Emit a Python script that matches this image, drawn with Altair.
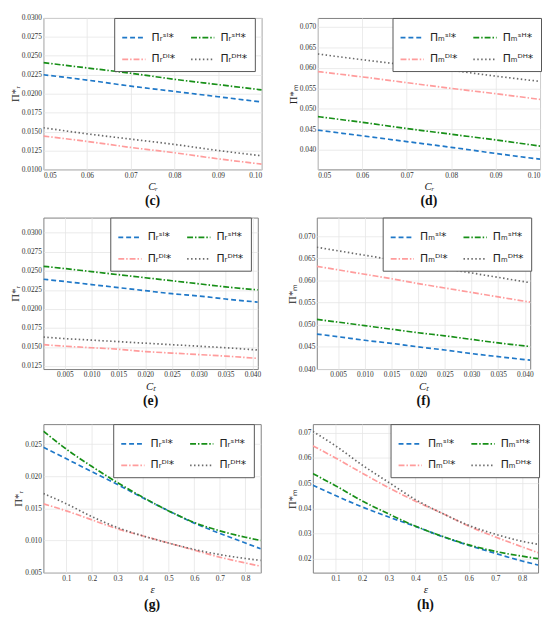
import altair as alt
import pandas as pd

# ---------------- data ----------------
x_c = [0.05, 0.06, 0.07, 0.08, 0.09, 0.10]
c_SI = [0.0225, 0.0218, 0.0210, 0.0203, 0.0196, 0.0189]
c_SH = [0.0241, 0.0234, 0.0227, 0.0219, 0.0212, 0.0205]
c_DI = [0.0144, 0.0137, 0.0129, 0.0122, 0.0114, 0.0107]
c_DH = [0.0155, 0.0147, 0.0140, 0.0133, 0.0125, 0.0118]

x_d = [0.05, 0.06, 0.07, 0.08, 0.09, 0.10]
d_SI = [0.0448, 0.0434, 0.0420, 0.0406, 0.0391, 0.0377]
d_SH = [0.0481, 0.0467, 0.0452, 0.0438, 0.0424, 0.0409]
d_DI = [0.0591, 0.0578, 0.0564, 0.0550, 0.0537, 0.0523]
d_DH = [0.0634, 0.0620, 0.0607, 0.0594, 0.0580, 0.0567]

x_e = [0.001, 0.005, 0.010, 0.015, 0.020, 0.025, 0.030, 0.035, 0.041]
e_SI = [0.0239, 0.0236, 0.0232, 0.0228, 0.0224, 0.0220, 0.0217, 0.0213, 0.0209]
e_SH = [0.0256, 0.0253, 0.0249, 0.0245, 0.0241, 0.0237, 0.0233, 0.0229, 0.0225]
e_DI = [0.0153, 0.0151, 0.0149, 0.0147, 0.0144, 0.0142, 0.0140, 0.0138, 0.0135]
e_DH = [0.0163, 0.0161, 0.0159, 0.0157, 0.0155, 0.0153, 0.0151, 0.0149, 0.0146]

x_f = [0.001, 0.005, 0.010, 0.015, 0.020, 0.025, 0.030, 0.035, 0.041]
f_SI = [0.0479, 0.0473, 0.0465, 0.0458, 0.0450, 0.0443, 0.0435, 0.0428, 0.0420]
f_SH = [0.0512, 0.0506, 0.0498, 0.0490, 0.0482, 0.0475, 0.0467, 0.0459, 0.0451]
f_DI = [0.0632, 0.0624, 0.0614, 0.0604, 0.0593, 0.0583, 0.0573, 0.0563, 0.0551]
f_DH = [0.0675, 0.0667, 0.0657, 0.0647, 0.0637, 0.0627, 0.0617, 0.0607, 0.0595]

x_g = [0.01, 0.1, 0.2, 0.3, 0.4, 0.5, 0.6, 0.7, 0.8, 0.86]
g_SI = [0.0245, 0.0227, 0.0207, 0.0187, 0.0166, 0.0146, 0.0127, 0.0111, 0.0096, 0.0087]
g_SH = [0.0270, 0.0242, 0.0215, 0.0190, 0.0167, 0.0146, 0.0128, 0.0115, 0.0105, 0.0100]
g_DI = [0.0157, 0.0146, 0.0132, 0.0118, 0.0107, 0.0096, 0.0085, 0.0074, 0.0065, 0.0060]
g_DH = [0.0173, 0.0157, 0.0137, 0.0120, 0.0107, 0.0096, 0.0086, 0.0078, 0.0072, 0.0069]

x_h = [0.015, 0.1, 0.2, 0.3, 0.4, 0.5, 0.6, 0.7, 0.8, 0.86]
h_SI = [0.0492, 0.0451, 0.0406, 0.0366, 0.0329, 0.0289, 0.0254, 0.0222, 0.0192, 0.0176]
h_SH = [0.0538, 0.0490, 0.0430, 0.0378, 0.0330, 0.0290, 0.0256, 0.0230, 0.0211, 0.0201]
h_DI = [0.0648, 0.0600, 0.0540, 0.0482, 0.0429, 0.0381, 0.0330, 0.0287, 0.0248, 0.0225]
h_DH = [0.0705, 0.0648, 0.0572, 0.0503, 0.0435, 0.0381, 0.0333, 0.0298, 0.0270, 0.0258]

# legend order as it fills the 2-column grid: SI, SH (row 1) / DI, DH (row 2)
series_keys = ["SI", "DI", "SH", "DH"]
sup = {"SI": "ˢᴵ*", "SH": "ˢᴴ*", "DI": "ᴰᴵ*", "DH": "ᴰᴴ*"}
color_of = {"SI": "#1f78c8", "SH": "#178f17", "DI": "#ff9c9c", "DH": "#6a6a6a"}
dash_of = {"SI": [5, 3], "SH": [6, 2, 1.5, 2], "DI": [6, 2, 1.5, 2], "DH": [1.5, 2.5]}

SERIF = "Liberation Serif"


def panel(xs, vals, sub, ydom, yticks, yfmt, xdom, xticks, xfmt, xtitle, ytitle, cap,
          w, h, cap_off):
    labels = ["Π" + sub + sup[k] for k in series_keys]
    rows = []
    for k, lab in zip(series_keys, labels):
        for xv, yv in zip(xs, vals[k]):
            rows.append({"x": xv, "y": yv, "s": lab})
    df = pd.DataFrame(rows)
    leg = alt.Legend(
        title=None, orient="none", legendX=w - 150, legendY=0, columns=2,
        symbolType="stroke", symbolSize=560, symbolStrokeWidth=1.8,
        labelFont="DejaVu Sans", labelFontSize=11, labelColor="#222",
        strokeColor="#555", fillColor="white", padding=7, rowPadding=4,
        columnPadding=12, labelOffset=5, labelLimit=80,
    )
    return alt.Chart(df).mark_line(strokeWidth=1.7, clip=True, interpolate="monotone").encode(
        x=alt.X("x:Q", scale=alt.Scale(domain=xdom, nice=False, zero=False),
                axis=alt.Axis(values=xticks, format=xfmt, title=xtitle, titleFontStyle="italic",
                              titlePadding=2)),
        y=alt.Y("y:Q", scale=alt.Scale(domain=ydom, nice=False, zero=False),
                axis=alt.Axis(values=yticks, format=yfmt, title=ytitle, titleFontStyle="normal",
                              titlePadding=1)),
        color=alt.Color("s:N", scale=alt.Scale(domain=labels, range=[color_of[k] for k in series_keys]),
                        legend=leg),
        strokeDash=alt.StrokeDash("s:N", scale=alt.Scale(domain=labels, range=[dash_of[k] for k in series_keys]),
                                  legend=leg),
    ).properties(
        width=w, height=h,
        title=alt.TitleParams(cap, orient="bottom", font=SERIF, fontSize=14,
                              fontWeight="bold", offset=cap_off, color="#111"),
    )


pc = panel(x_c, {"SI": c_SI, "SH": c_SH, "DI": c_DI, "DH": c_DH}, "ᵣ",
           [0.0100, 0.0300], [0.0100, 0.0125, 0.0150, 0.0175, 0.0200, 0.0225, 0.0250, 0.0275, 0.0300], ".4f",
           [0.05, 0.10], [0.05, 0.06, 0.07, 0.08, 0.09, 0.10], ".2f", "Cᵣ", "Π*ᵣ", "(c)", 222, 154, 3)
pd_ = panel(x_d, {"SI": d_SI, "SH": d_SH, "DI": d_DI, "DH": d_DH}, "ₘ",
            [0.0352, 0.0722], [0.040, 0.045, 0.050, 0.055, 0.060, 0.065, 0.070], ".3f",
            [0.05, 0.10], [0.05, 0.06, 0.07, 0.08, 0.09, 0.10], ".2f", "Cᵣ", "Π*ₘ", "(d)", 226, 154, 3)
pe = panel(x_e, {"SI": e_SI, "SH": e_SH, "DI": e_DI, "DH": e_DH}, "ᵣ",
           [0.0121, 0.0320], [0.0125, 0.0150, 0.0175, 0.0200, 0.0225, 0.0250, 0.0275, 0.0300], ".4f",
           [0.001, 0.041], [0.005, 0.010, 0.015, 0.020, 0.025, 0.030, 0.035, 0.040], ".3f", "Cₜ", "Π*ᵣ", "(e)", 218, 154, 3)
pf = panel(x_f, {"SI": f_SI, "SH": f_SH, "DI": f_DI, "DH": f_DH}, "ₘ",
           [0.0400, 0.0742], [0.040, 0.045, 0.050, 0.055, 0.060, 0.065, 0.070], ".3f",
           [0.001, 0.041], [0.005, 0.010, 0.015, 0.020, 0.025, 0.030, 0.035, 0.040], ".3f", "Cₜ", "Π*ₘ", "(f)", 217, 154, 3)
pg = panel(x_g, {"SI": g_SI, "SH": g_SH, "DI": g_DI, "DH": g_DH}, "ᵣ",
           [0.0050, 0.0281], [0.005, 0.010, 0.015, 0.020, 0.025], ".3f",
           [0.01, 0.86], [0.1, 0.2, 0.3, 0.4, 0.5, 0.6, 0.7, 0.8], ".1f", "ε", "Π*ᵣ", "(g)", 221, 151, 3)
ph = panel(x_h, {"SI": h_SI, "SH": h_SH, "DI": h_DI, "DH": h_DH}, "ₘ",
           [0.0146, 0.0734], [0.02, 0.03, 0.04, 0.05, 0.06, 0.07], ".2f",
           [0.015, 0.86], [0.1, 0.2, 0.3, 0.4, 0.5, 0.6, 0.7, 0.8], ".1f", "ε", "Π*ₘ", "(h)", 229, 151, 3)


def indep(c):
    return c.resolve_scale(color="independent", strokeDash="independent") \
        .resolve_legend(color="independent", strokeDash="independent")


def row(a, b):
    return indep(alt.hconcat(a, b, spacing=24))


top = indep(alt.vconcat(row(pc, pd_), row(pe, pf), spacing=8))
chart = indep(alt.vconcat(top, row(pg, ph), spacing=15)) \
    .configure(padding=0) \
    .configure_view(stroke="#808080", strokeWidth=1) \
    .configure_axis(
        labelFont=SERIF, labelFontSize=7.5, labelColor="#333",
        titleFont=SERIF, titleFontSize=11, titleFontWeight="normal", titleColor="#222",
        grid=True, gridColor="#e6e6e6", gridWidth=0.8,
        domain=False, ticks=False, labelPadding=2,
    )

chart.save("out.html", embed_options={"renderer": "svg", "actions": False})
